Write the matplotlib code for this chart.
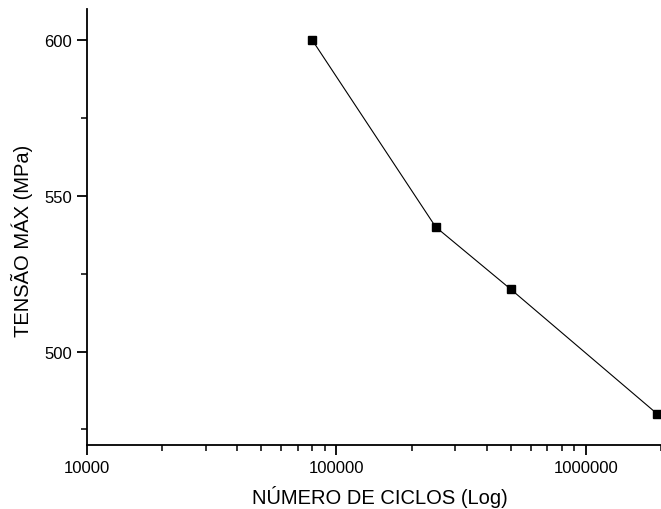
import matplotlib
matplotlib.use("Agg")
import matplotlib.pyplot as plt
import matplotlib.ticker as mtick

# dados
ciclos = [80000, 250000, 500000, 1930000]
tensao = [600, 540, 520, 480]

x_ticks = [10000, 100000, 1000000]
y_ticks = [500, 550, 600]

plt.rcParams['font.family'] = ['Liberation Sans', 'DejaVu Sans']

fig = plt.figure(figsize=(6.61, 5.10), dpi=100)
ax = fig.add_axes([0.1316, 0.1255, 0.8684, 0.8549])

ax.plot(ciclos, tensao, color="black", linewidth=0.8, marker="s",
        markersize=6, markerfacecolor="black", markeredgecolor="black")

ax.set_xscale("log")
ax.set_xlim(10000, 2000000)
ax.set_ylim(470, 610)

ax.set_xticks(x_ticks)
ax.xaxis.set_major_formatter(mtick.FuncFormatter(lambda v, p: f"{int(round(v))}"))
ax.xaxis.set_minor_locator(mtick.LogLocator(base=10, subs=range(2, 10)))
ax.xaxis.set_minor_formatter(mtick.NullFormatter())

ax.set_yticks(y_ticks)
ax.yaxis.set_minor_locator(mtick.MultipleLocator(25))

for side in ["top", "right"]:
    ax.spines[side].set_visible(False)
for side in ["left", "bottom"]:
    ax.spines[side].set_linewidth(1.3)

ax.tick_params(which="major", direction="out", length=7, width=1.3, labelsize=12, pad=4)
ax.tick_params(which="minor", direction="out", length=4, width=1.1)

ax.set_xlabel("NÚMERO DE CICLOS (Log)", fontsize=14.5)
ax.set_ylabel("TENSÃO MÁX (MPa)", fontsize=14.5)
ax.xaxis.set_label_coords(0.511, -0.092)
ax.yaxis.set_label_coords(-0.094, 0.47)

fig.savefig("out.png", dpi=100)
